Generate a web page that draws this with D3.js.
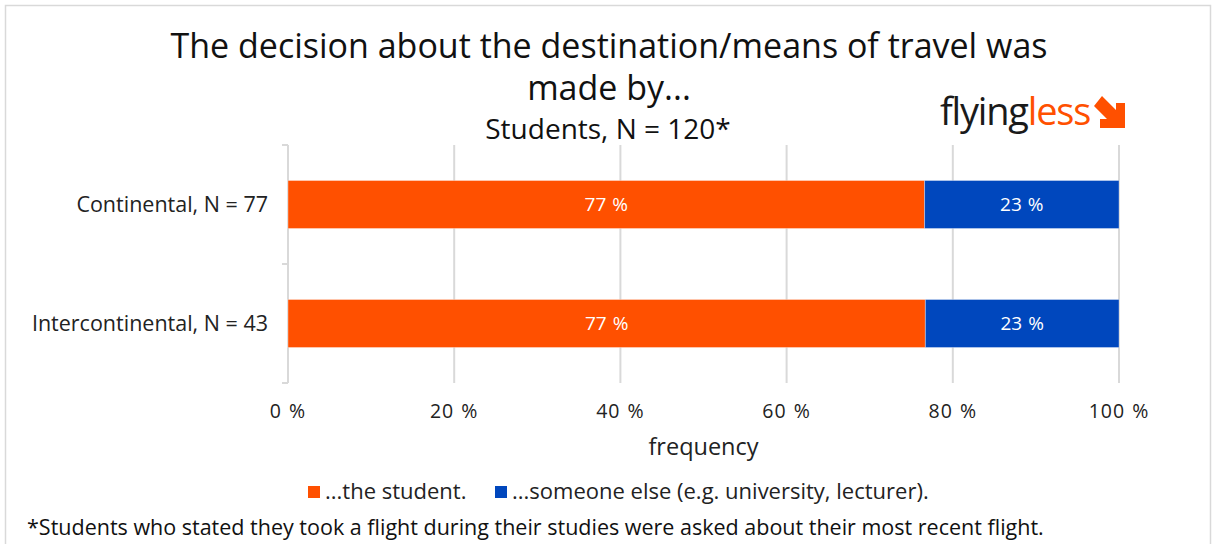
<!DOCTYPE html>
<html><head><meta charset="utf-8">
<script src="https://cdn.jsdelivr.net/npm/d3@7"></script>
<style>
html,body{margin:0;padding:0;background:#fff;}
svg{display:block;font-family:"Open Sans",sans-serif;}
</style></head>
<body>
<svg id="chart" width="1212" height="544"></svg>
<script>
const categories = ["Continental, N = 77", "Intercontinental, N = 43"];
const seriesNames = ["...the student.", "...someone else (e.g. university, lecturer)."];
const studentValues = [76.6, 76.7];
const someoneElseValues = [23.4, 23.3];
const barLabels = [["77 %", "77 %"], ["23 %", "23 %"]];
const xTicks = [0, 20, 40, 60, 80, 100];
const colors = ["#FF5000", "#0047BD"];
const titleLines = ["The decision about the destination/means of travel was", "made by..."];
const subtitle = "Students, N = 120*";
const xTitle = "frequency";
const footnote = "*Students who stated they took a flight during their studies were asked about their most recent flight.";

const svg = d3.select("#chart");
const W = 1212, H = 544;
const m = {left: 288, right: 93, top: 145, bottom: 161};

// outer frame
svg.append("rect").attr("x", 5.5).attr("y", 5.5).attr("width", 1205).attr("height", 560)
  .attr("fill", "#fff").attr("stroke", "#d9d9d9").attr("stroke-width", 1.5);

const x = d3.scaleLinear().domain([0, 100]).range([m.left, W - m.right]);
const y = d3.scaleBand().domain(categories).range([m.top, H - m.bottom]).paddingInner(0).paddingOuter(0);
const barH = 48;

// gridlines
svg.append("g").selectAll("line").data(xTicks).join("line")
  .attr("x1", d => x(d)).attr("x2", d => x(d))
  .attr("y1", m.top).attr("y2", H - m.bottom)
  .attr("stroke", "#d9d9d9").attr("stroke-width", 2);

// category axis ticks at band edges
const edges = [y.range()[0], y.range()[0] + y.bandwidth(), y.range()[1]];
svg.append("g").selectAll("line").data(edges).join("line")
  .attr("x1", x(0) - 6).attr("x2", x(0)).attr("y1", d => d).attr("y2", d => d)
  .attr("stroke", "#d9d9d9").attr("stroke-width", 2);

// stacked bars
const stackData = categories.map((c, i) => ({cat: c, student: studentValues[i], other: someoneElseValues[i]}));
const stack = d3.stack().keys(["student", "other"])(stackData);
const gBars = svg.append("g");
stack.forEach((layer, li) => {
  gBars.append("g").selectAll("rect").data(layer).join("rect")
    .attr("x", d => x(d[0]))
    .attr("y", d => y(d.data.cat) + (y.bandwidth() - barH) / 2)
    .attr("width", d => x(d[1]) - x(d[0]))
    .attr("height", barH)
    .attr("fill", colors[li])
    .attr("stroke", "rgba(255,255,255,0.35)").attr("stroke-width", 1);
  gBars.append("g").selectAll("text").data(layer).join("text")
    .attr("x", d => (x(d[0]) + x(d[1])) / 2)
    .attr("y", d => y(d.data.cat) + y.bandwidth() / 2)
    .attr("dy", "0.36em")
    .attr("text-anchor", "middle")
    .attr("fill", "#fff").attr("font-size", 19).attr("word-spacing", 1)
    .text((d, i) => barLabels[li][i]);
});

// category labels
svg.append("g").selectAll("text").data(categories).join("text")
  .attr("x", x(0) - 20).attr("y", d => y(d) + y.bandwidth() / 2)
  .attr("dy", "0.36em").attr("text-anchor", "end")
  .attr("font-size", 21.5).attr("fill", "#222").text(d => d);

// x tick labels
svg.append("g").selectAll("text").data(xTicks).join("text")
  .attr("x", d => x(d)).attr("y", 418)
  .attr("text-anchor", "middle").attr("font-size", 19.5).attr("fill", "#222")
  .attr("word-spacing", 1).attr("letter-spacing", 1)
  .text(d => d + " %");

// x title
svg.append("text").attr("x", (x(0) + x(100)) / 2).attr("y", 455)
  .attr("text-anchor", "middle").attr("font-size", 23.5).attr("fill", "#222").text(xTitle);

// title
svg.append("g").selectAll("text").data(titleLines).join("text")
  .attr("x", 609).attr("y", (d, i) => 58 + i * 42)
  .attr("text-anchor", "middle").attr("font-size", 34).attr("fill", "#111").text(d => d);
svg.append("text").attr("x", 608).attr("y", 139).attr("text-anchor", "middle")
  .attr("font-size", 28).attr("fill", "#111").text(subtitle);

// legend
const legendX = [308, 495];
const lg = svg.append("g");
seriesNames.forEach((s, i) => {
  lg.append("rect").attr("x", legendX[i]).attr("y", 486).attr("width", 12).attr("height", 12).attr("fill", colors[i]);
  lg.append("text").attr("x", legendX[i] + 17).attr("y", 499).attr("font-size", 22).attr("fill", "#222").text(s);
});

// footnote
svg.append("text").attr("x", 27).attr("y", 535).attr("font-size", 21.5).attr("fill", "#111").text(footnote);

// logo
const logo = svg.append("g");
const lt = logo.append("text").attr("x", 940).attr("y", 125).attr("font-size", 38).attr("letter-spacing", -1.2);
lt.append("tspan").attr("fill", "#1a1a1a").text("flying");
lt.append("tspan").attr("fill", "#FF5000").text("less");
logo.append("path").attr("fill", "#FF5000")
  .attr("d", "M1102,96 L1116,110 L1116,103 L1125,103 L1125,128 L1100,128 L1100,119 L1107,119 L1094,106 Z");
</script>
</body></html>
